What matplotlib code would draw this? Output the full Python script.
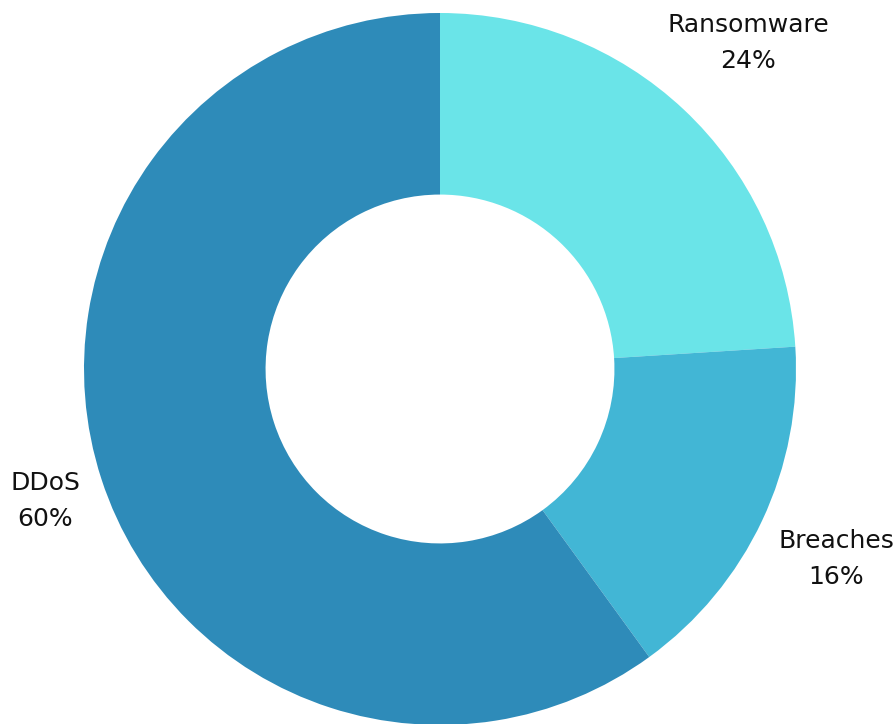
import matplotlib
matplotlib.use('Agg')
from matplotlib import pyplot as plt

# data
labels = ['Ransomware', 'Breaches', 'DDoS']
shares = [24, 16, 60]
colors = ['#6ae4e8', '#42b6d5', '#2e8bb9']

W, H = 896, 724
fig = plt.figure(figsize=(W / 100, H / 100), dpi=100)
ax = fig.add_axes([0, 0, 1, 1])

cx, cy, r = 440, H - 369, 356          # pie centre / radius in pixel units
ax.pie(shares, colors=colors, startangle=90, counterclock=False,
       radius=r, center=(cx, cy),
       wedgeprops=dict(width=r * 0.51, linewidth=0))

ax.set_xlim(0, W)
ax.set_ylim(0, H)
ax.set_aspect('auto')
ax.axis('off')

# label positions (pixels, top-left origin)
label_pos = [(748, 43), (836, 559), (45, 501)]
for name, val, (x, y) in zip(labels, shares, label_pos):
    ax.text(x, H - y, f'{name}\n{val}%', ha='center', va='center',
            fontsize=18, color='#111111', linespacing=1.6)

fig.savefig('out.png', dpi=100)
